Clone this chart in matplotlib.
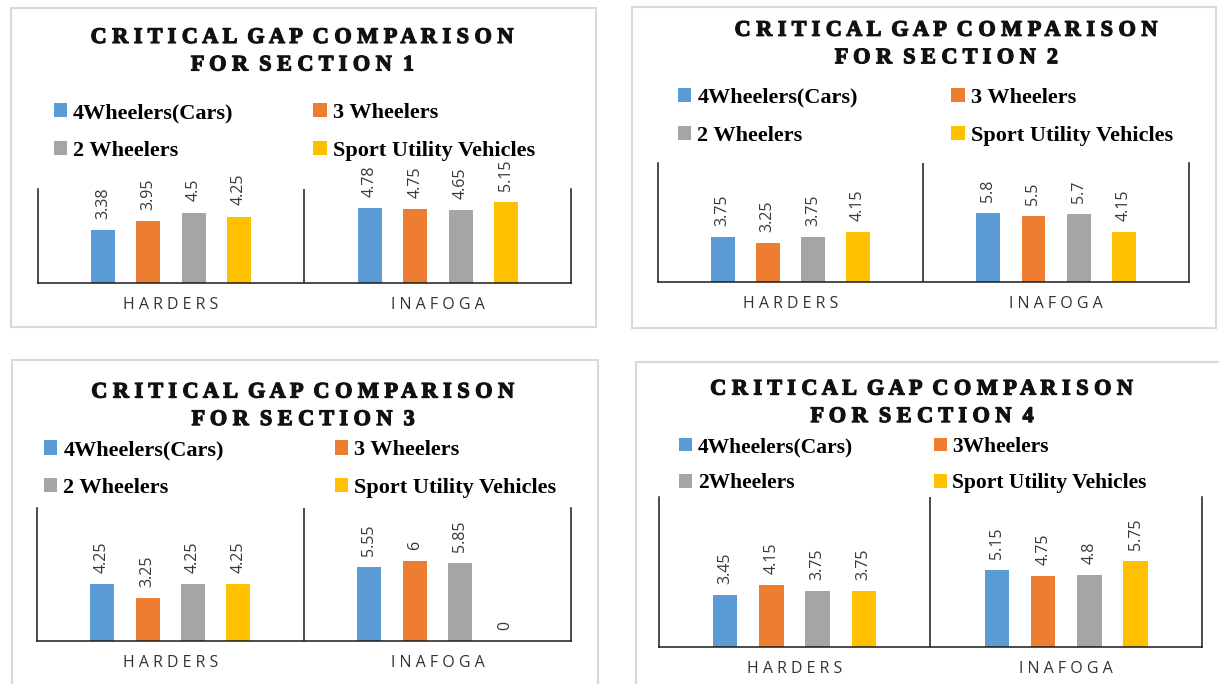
import numpy as np
import matplotlib
matplotlib.use('Agg')
import matplotlib.pyplot as plt
import matplotlib.patheffects as pe
from matplotlib.patches import Rectangle

W, H = 1219, 684

categories = ['HARDERS', 'INAFOGA']
colors = ['#5B9BD5', '#ED7D31', '#A5A5A5', '#FFC000']

names_a = ['4Wheelers(Cars)', '3 Wheelers', '2 Wheelers', 'Sport Utility Vehicles']
names_b = ['4Wheelers(Cars)', '3Wheelers', '2Wheelers', 'Sport Utility Vehicles']

# critical gap (s) per section, values are [HARDERS, INAFOGA]
sec1_cars = [3.38, 4.78]
sec1_three = [3.95, 4.75]
sec1_two = [4.5, 4.65]
sec1_suv = [4.25, 5.15]

sec2_cars = [3.75, 5.8]
sec2_three = [3.25, 5.5]
sec2_two = [3.75, 5.7]
sec2_suv = [4.15, 4.15]

sec3_cars = [4.25, 5.55]
sec3_three = [3.25, 6]
sec3_two = [4.25, 5.85]
sec3_suv = [4.25, 0]

sec4_cars = [3.45, 5.15]
sec4_three = [4.15, 4.75]
sec4_two = [3.75, 4.8]
sec4_suv = [3.75, 5.75]

sections = [
    ('1', names_a, [sec1_cars, sec1_three, sec1_two, sec1_suv]),
    ('2', names_a, [sec2_cars, sec2_three, sec2_two, sec2_suv]),
    ('3', names_a, [sec3_cars, sec3_three, sec3_two, sec3_suv]),
    ('4', names_b, [sec4_cars, sec4_three, sec4_two, sec4_suv]),
]

# page layout in pixels (x from left, y from top)
layout = [
    dict(border=(11, 8, 596, 327), axes=(37.6, 189, 571.3, 283.3), ymax=6,
         title=(303, 51.7), legend=(53.5, 132), colsp=3.6, lsize=16, lsp=0.8),
    dict(border=(632, 7, 1216, 328), axes=(657.5, 162.7, 1188.9, 281.7), ymax=10,
         title=(947, 44.5), legend=(678, 116.7), colsp=4.2, lsize=16, lsp=0.8),
    dict(border=(12, 360, 597.5, 700), axes=(36.6, 507.7, 571.2, 641), ymax=10,
         title=(303.7, 406.3), legend=(44, 469.2), colsp=5.0, lsize=16, lsp=0.8),
    dict(border=(635.6, 361.7, 1230, 700), axes=(658.6, 496.7, 1202.2, 647.3), ymax=10,
         title=(922.6, 403.3), legend=(679, 465.2), colsp=3.75, lsize=15.5, lsp=0.75),
]


def fx(x):
    return x / W


def fy(y):
    return 1 - y / H


def spaced(line):
    return '  '.join(' '.join(word) for word in line.split(' '))


fig = plt.figure(figsize=(W / 100, H / 100), dpi=100)

x = np.arange(len(categories))
slot, width = 0.17, 0.09

for (num, names, series), lay in zip(sections, layout):
    bx0, by0, bx1, by1 = lay['border']
    fig.patches.append(Rectangle((fx(bx0), fy(by1)), fx(bx1 - bx0), (by1 - by0) / H,
                                 transform=fig.transFigure, fill=False,
                                 edgecolor='#D9D9D9', linewidth=1.5))

    l, t, r, b = lay['axes']
    ax = fig.add_axes([fx(l), fy(b), fx(r - l), (b - t) / H])

    for i, (vals, name, c) in enumerate(zip(series, names, colors)):
        bars = ax.bar(x + (i - 1.5) * slot, vals, width, color=c, label=name)
        ax.bar_label(bars, fmt='{:g}', rotation=90, padding=8, fontsize=11.5,
                     color='#383838', family='Open Sans')

    ax.set_xlim(-0.5, 1.5)
    ax.set_ylim(0, lay['ymax'])
    ax.axvline(0.5, color='#1a1a1a', lw=1.1)
    ax.spines['top'].set_visible(False)
    for s in ('left', 'right', 'bottom'):
        ax.spines[s].set_color('#1a1a1a')
        ax.spines[s].set_linewidth(1.1)
    ax.set_yticks([])
    ax.set_xticks(x)
    ax.set_xticklabels([' '.join(c) for c in categories], family='Open Sans',
                       fontsize=11.5, color='#333333')
    ax.tick_params(axis='x', length=0, pad=10)

    tx, ty = lay['title']
    fig.text(fx(tx), fy(ty), spaced('CRITICAL GAP COMPARISON') + '\n' +
             spaced('FOR SECTION ' + num), ha='center', va='center',
             family='Liberation Serif', weight='bold', fontsize=16,
             linespacing=1.5, color='#111111',
             path_effects=[pe.withStroke(linewidth=0.9, foreground='#111111')])

    h, lab = ax.get_legend_handles_labels()
    order = [0, 2, 1, 3]
    lx, ly = lay['legend']
    ax.legend([h[k] for k in order], [lab[k] for k in order], ncol=2,
              loc='center left', bbox_to_anchor=(fx(lx), fy(ly)),
              bbox_transform=fig.transFigure, frameon=False, borderpad=0,
              borderaxespad=0, handlelength=0.6, handleheight=0.6,
              handletextpad=0.27, columnspacing=lay['colsp'],
              labelspacing=lay['lsp'],
              prop=dict(family='Liberation Serif', weight='bold', size=lay['lsize']))

fig.savefig('out.png', dpi=100)
